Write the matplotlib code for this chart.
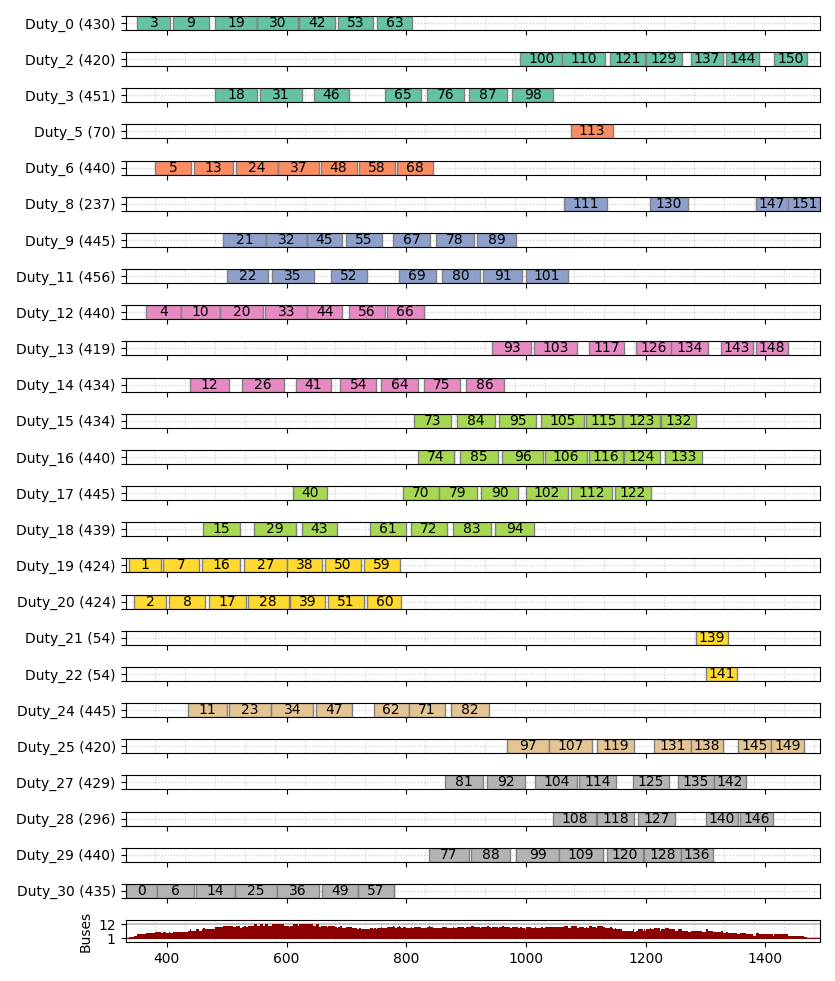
import numpy as np
import matplotlib
matplotlib.use("Agg")
import matplotlib.pyplot as plt
from matplotlib.ticker import FixedLocator

# duty number and total driving minutes shown in the label
duty_ids = [0, 2, 3, 5, 6, 8, 9, 11, 12, 13, 14, 15, 16, 17, 18, 19, 20, 21, 22, 24, 25, 27, 28, 29, 30]
duty_minutes = [430, 420, 451, 70, 440, 237, 445, 456, 440, 419, 434, 434, 440, 445, 439, 424, 424, 54, 54, 445, 420, 429, 296, 440, 435]

# trips per duty: id, start minute, end minute
trip_ids = [
    [3, 9, 19, 30, 42, 53, 63],
    [100, 110, 121, 129, 137, 144, 150],
    [18, 31, 46, 65, 76, 87, 98],
    [113],
    [5, 13, 24, 37, 48, 58, 68],
    [111, 130, 147, 151],
    [21, 32, 45, 55, 67, 78, 89],
    [22, 35, 52, 69, 80, 91, 101],
    [4, 10, 20, 33, 44, 56, 66],
    [93, 103, 117, 126, 134, 143, 148],
    [12, 26, 41, 54, 64, 75, 86],
    [73, 84, 95, 105, 115, 123, 132],
    [74, 85, 96, 106, 116, 124, 133],
    [40, 70, 79, 90, 102, 112, 122],
    [15, 29, 43, 61, 72, 83, 94],
    [1, 7, 16, 27, 38, 50, 59],
    [2, 8, 17, 28, 39, 51, 60],
    [139],
    [141],
    [11, 23, 34, 47, 62, 71, 82],
    [97, 107, 119, 131, 138, 145, 149],
    [81, 92, 104, 114, 125, 135, 142],
    [108, 118, 127, 140, 146],
    [77, 88, 99, 109, 120, 128, 136],
    [0, 6, 14, 25, 36, 49, 57],
]
trip_starts = [
    [351, 410, 480, 551, 621, 686, 751],
    [990, 1061, 1141, 1200, 1275, 1334, 1415],
    [480, 555, 646, 764, 835, 905, 976],
    [1076],
    [380, 445, 515, 586, 657, 721, 785],
    [1064, 1208, 1384, 1438],
    [494, 565, 634, 700, 778, 849, 919],
    [500, 575, 675, 788, 859, 929, 1000],
    [365, 424, 489, 564, 635, 705, 768],
    [944, 1014, 1105, 1183, 1243, 1325, 1384],
    [439, 525, 615, 690, 758, 829, 900],
    [813, 884, 955, 1025, 1100, 1162, 1225],
    [819, 889, 960, 1031, 1105, 1164, 1233],
    [610, 794, 854, 925, 1000, 1075, 1149],
    [460, 545, 626, 740, 808, 878, 949],
    [337, 394, 459, 529, 600, 664, 729],
    [345, 404, 470, 535, 605, 670, 735],
    [1284],
    [1300],
    [435, 504, 574, 649, 746, 804, 875],
    [969, 1039, 1119, 1214, 1275, 1355, 1409],
    [864, 935, 1015, 1089, 1179, 1254, 1314],
    [1045, 1119, 1188, 1300, 1358],
    [838, 909, 984, 1055, 1135, 1198, 1259],
    [331, 384, 449, 514, 584, 660, 719],
]
trip_ends = [
    [406, 470, 551, 620, 681, 745, 810],
    [1061, 1132, 1199, 1260, 1329, 1389, 1470],
    [551, 626, 704, 825, 896, 969, 1046],
    [1145],
    [441, 510, 586, 655, 717, 781, 845],
    [1135, 1270, 1438, 1492],
    [565, 634, 693, 759, 839, 913, 984],
    [569, 646, 734, 849, 923, 994, 1070],
    [424, 489, 560, 635, 693, 764, 829],
    [1008, 1085, 1164, 1243, 1304, 1380, 1438],
    [504, 595, 674, 750, 820, 889, 964],
    [875, 948, 1017, 1097, 1160, 1224, 1284],
    [880, 953, 1029, 1102, 1162, 1224, 1294],
    [668, 854, 918, 987, 1070, 1143, 1209],
    [523, 615, 684, 799, 868, 942, 1013],
    [390, 454, 523, 600, 660, 725, 790],
    [399, 464, 533, 604, 665, 729, 792],
    [1337],
    [1353],
    [500, 574, 645, 709, 804, 864, 939],
    [1039, 1110, 1180, 1275, 1329, 1409, 1464],
    [929, 998, 1086, 1150, 1239, 1314, 1368],
    [1117, 1180, 1249, 1355, 1413],
    [905, 974, 1055, 1129, 1195, 1259, 1313],
    [384, 446, 514, 584, 654, 719, 779],
]

xmin = min(min(s) for s in trip_starts)
xmax = max(max(e) for e in trip_ends)
grid_x = np.arange(xmin, xmax, 50)

fig = plt.figure(figsize=(8.35, 9.81), dpi=100)
n = len(duty_ids)
gs = fig.add_gridspec(n + 1, 1, height_ratios=[1] * n + [1.57], hspace=1.55,
                      left=0.1503, right=0.9826, top=0.9837, bottom=0.0398)
cmap = plt.cm.Set2
axes = []
for i, d in enumerate(duty_ids):
    ax = fig.add_subplot(gs[i]) if i == 0 else fig.add_subplot(gs[i], sharex=axes[0])
    axes.append(ax)
    color = cmap(d / max(duty_ids))
    for tid, s, e in zip(trip_ids[i], trip_starts[i], trip_ends[i]):
        ax.barh(0.5, e - s, left=s, height=1, color=color, edgecolor="grey", linewidth=1, zorder=2)
        ax.text((s + e) / 2, 0.5, str(tid), ha="center", va="center", fontsize=10, zorder=3)
    ax.set_ylim(0, 1)
    ax.set_yticks([0, 0.5, 1])
    ax.set_yticklabels(["", f"Duty_{d} ({duty_minutes[i]})", ""])
    ax.xaxis.set_minor_locator(FixedLocator(grid_x))
    ax.tick_params(axis="x", which="minor", length=0)
    ax.grid(True, which="minor", axis="x", linestyle=":", color="#cccccc", linewidth=0.8, zorder=0)
    ax.grid(True, which="major", axis="y", linestyle=":", color="#cccccc", linewidth=0.8, zorder=0)
    ax.tick_params(axis="x", labelbottom=False)

# buses in service per minute
ax = fig.add_subplot(gs[n], sharex=axes[0])
minutes = np.arange(xmin, xmax)
buses = np.zeros(len(minutes))
for starts, ends in zip(trip_starts, trip_ends):
    for s, e in zip(starts, ends):
        buses += (minutes >= s) & (minutes < e)
ax.bar(minutes + 0.5, buses, width=1, color="#8b0000", linewidth=0, zorder=2)
ax.set_ylim(-2.1, 15.4)
ax.set_yticks([1, int(buses.max())])
ax.set_ylabel("Buses")
ax.xaxis.set_minor_locator(FixedLocator(grid_x))
ax.tick_params(axis="x", which="minor", length=0)
ax.grid(True, which="minor", axis="x", linestyle=":", color="#cccccc", linewidth=0.8, zorder=3)
ax.grid(True, which="major", axis="y", color="#bbbbbb", linewidth=1.2, zorder=1)
ax.set_xlim(xmin, xmax)
ax.set_xticks([400, 600, 800, 1000, 1200, 1400])

fig.savefig("out.png", dpi=100)
